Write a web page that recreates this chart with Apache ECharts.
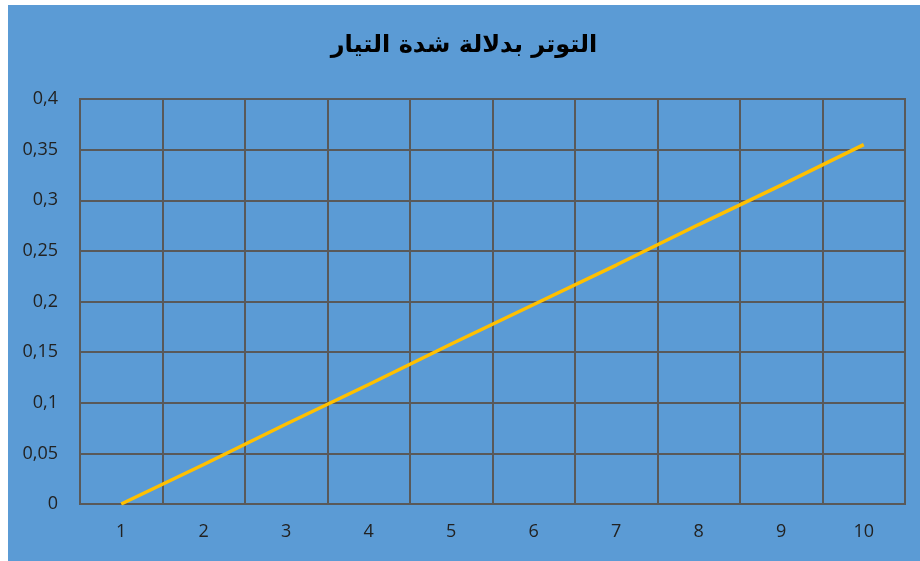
<!DOCTYPE html>
<html>
<head>
<meta charset="utf-8">
<script src="https://cdn.jsdelivr.net/npm/echarts@6/dist/echarts.min.js"></script>
<style>
html,body{margin:0;padding:0;background:#ffffff;width:920px;height:561px;overflow:hidden;}
#chart{position:absolute;left:8px;top:5px;width:912px;height:556px;background:#5b9bd5;}
</style>
</head>
<body>
<div id="chart"></div>
<script>
const titleText = 'التوتر بدلالة شدة التيار';
const categories = ['1','2','3','4','5','6','7','8','9','10'];
const voltage = [0, 0.039, 0.079, 0.118, 0.158, 0.197, 0.236, 0.276, 0.315, 0.355];
const yTicks = [0, 0.05, 0.1, 0.15, 0.2, 0.25, 0.3, 0.35, 0.4];

const chart = echarts.init(document.getElementById('chart'), null, {renderer:'canvas'});
chart.setOption({
  backgroundColor: '#5b9bd5',
  animation: false,
  title: {
    text: titleText,
    left: 'center',
    top: 24,
    textStyle: {fontFamily: 'DejaVu Sans', fontWeight: 'bold', fontSize: 24, color: '#000000'}
  },
  grid: {left: 72, top: 94, right: 15, bottom: 57, show: true, borderColor: '#595959', borderWidth: 2, backgroundColor: 'transparent'},
  xAxis: {
    type: 'category',
    data: categories,
    boundaryGap: true,
    axisLine: {show: true, lineStyle: {color: '#595959', width: 2}},
    axisTick: {show: false},
    splitLine: {show: true, lineStyle: {color: '#595959', width: 2}},
    axisLabel: {color: '#222222', fontFamily: 'Open Sans', fontSize: 18, margin: 19}
  },
  yAxis: {
    type: 'value',
    min: yTicks[0],
    max: yTicks[yTicks.length - 1],
    interval: 0.05,
    axisLine: {show: false},
    axisTick: {show: false},
    splitLine: {show: true, lineStyle: {color: '#595959', width: 2}},
    axisLabel: {
      color: '#222222', fontFamily: 'Open Sans', fontSize: 18, margin: 22,
      formatter: v => String(Math.round(v * 100) / 100).replace('.', ',')
    }
  },
  series: [{
    type: 'line',
    data: voltage,
    showSymbol: false,
    symbol: 'none',
    lineStyle: {color: '#ffc000', width: 3.5},
    itemStyle: {color: '#ffc000'}
  }]
});
</script>
</body>
</html>
